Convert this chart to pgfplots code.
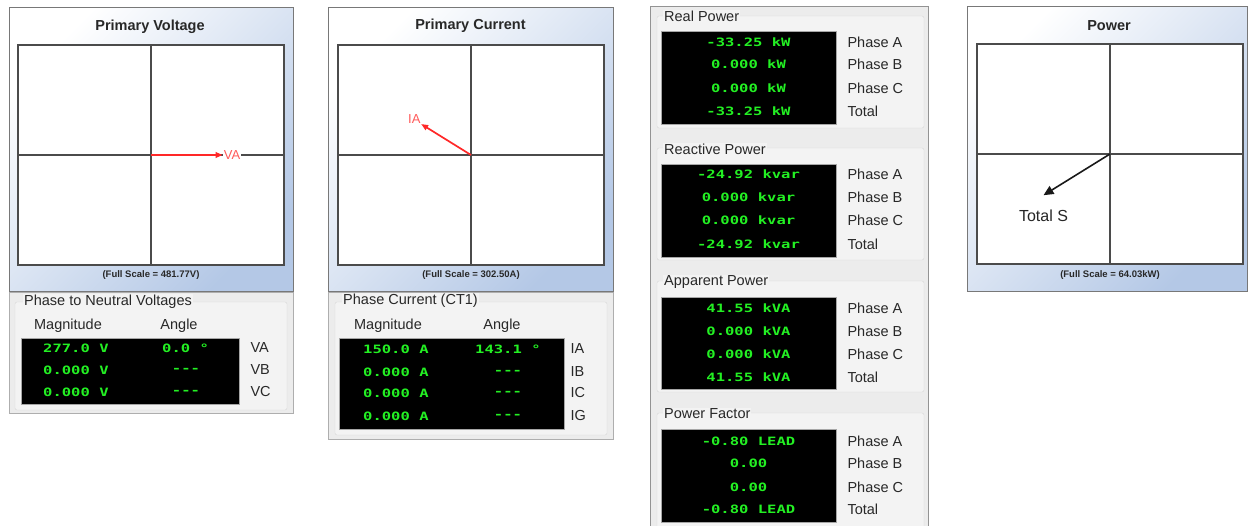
\documentclass[border=0pt]{standalone}
\usepackage{pgfplots}
\pgfplotsset{compat=1.18}
\usetikzlibrary{arrows.meta}
\usepackage{graphicx}
\usepackage{fontspec}
\setmainfont{Liberation Sans}
\newfontfamily\lcd{DejaVu Sans Mono}
\definecolor{panelblue}{RGB}{180,200,230}
\definecolor{frameg}{RGB}{120,120,120}
\definecolor{lcdgreen}{RGB}{35,240,35}
\definecolor{phred}{RGB}{255,40,40}
\definecolor{lblred}{RGB}{255,90,90}
\definecolor{txt}{RGB}{40,40,40}
\definecolor{grp}{RGB}{243,243,243}
\definecolor{grpline}{RGB}{215,215,215}
\definecolor{panelg}{RGB}{236,236,236}
\definecolor{gridg}{RGB}{75,75,75}
\newcommand\val[1]{\scalebox{1.35}[1]{\lcd\bfseries\fontsize{11.5}{12}\selectfont #1}}
\newcommand\lblf{\fontsize{14.5}{16}\selectfont}
\newcommand\ttlf{\fontsize{14.5}{16}\selectfont\bfseries}
\newcommand\fscf{\fontsize{9.5}{10}\selectfont\bfseries}
\tikzset{lbl/.style={font=\lblf, text=txt}, ttl/.style={font=\ttlf, text=txt}, fsc/.style={font=\fscf, text=txt}}
\pgfplotsset{phasor/.style={scale only axis, width=266pt, height=220pt, anchor=south west,
  xtick={0}, ytick={0}, xticklabels={}, yticklabels={}, major tick length=0pt,
  grid=major, major grid style={draw=gridg, line width=1.3pt},
  axis line style={draw=gridg, line width=1.4pt},
  axis background/.style={fill=white}, clip=false}}
\begin{document}
\begin{tikzpicture}[x=1pt,y=1pt]
\useasboundingbox (0,0) rectangle (1249,525);
\fill[white] (0,0) rectangle (1249,525);
\coordinate (P1) at (18,260);
\coordinate (P2) at (338,260);
\coordinate (P3) at (977,261);
% ---------- panel frames ----------
\shade[top color=white, bottom color=panelblue, shading angle=45] (9,525-8) rectangle (293,525-292);
\draw[frameg, line width=1pt] (9,525-8) rectangle (293,525-292);
\shade[top color=white, bottom color=panelblue, shading angle=45] (328,525-8) rectangle (613,525-292);
\draw[frameg, line width=1pt] (328,525-8) rectangle (613,525-292);
\shade[top color=white, bottom color=panelblue, shading angle=45] (967,525-7) rectangle (1247,525-292);
\draw[frameg, line width=1pt] (967,525-7) rectangle (1247,525-292);
\node[ttl] at (150,525-27) {Primary Voltage};
\node[ttl] at (470.5,525-26) {Primary Current};
\node[ttl] at (1109,525-26) {Power};
\node[fsc] at (151,525-275) {(Full Scale = 481.77V)};
\node[fsc] at (471,525-275) {(Full Scale = 302.50A)};
\node[fsc] at (1110,525-275) {(Full Scale = 64.03kW)};
% ---------- voltage sub panel ----------
\draw[fill=panelg, draw=frameg!60] (9,525-292) rectangle (293,525-413);
\draw[grpline, fill=grp, rounded corners=2pt] (15,525-302) rectangle (287,525-410);
\node[lbl, anchor=west, fill=grp, inner sep=1pt] at (23,525-302) {Phase to Neutral Voltages};
\node[lbl] at (68,525-326) {Magnitude};
\node[lbl] at (179,525-326) {Angle};
\filldraw[fill=black, draw=gray!70] (21,525-338) rectangle (239,525-404);
\begin{scope}[every node/.style={text=lcdgreen, inner sep=0pt}]
\node[anchor=west] at (43,525-348) {\val{277.0 V}};
\node[anchor=west] at (43,525-370) {\val{0.000 V}};
\node[anchor=west] at (43,525-392) {\val{0.000 V}};
\node[anchor=west] at (162,525-348) {\val{0.0 °}};
\node at (186,525-370) {\val{-{}-{}-}};
\node at (186,525-392) {\val{-{}-{}-}};
\end{scope}
\node[lbl, anchor=west] at (247,525-348) {VA};
\node[lbl, anchor=west] at (247,525-370) {VB};
\node[lbl, anchor=west] at (247,525-392) {VC};
% ---------- current sub panel ----------
\draw[fill=panelg, draw=frameg!60] (328,525-292) rectangle (613,525-439);
\draw[grpline, fill=grp, rounded corners=2pt] (335,525-302) rectangle (607,525-435);
\node[lbl, anchor=west, fill=grp, inner sep=1pt] at (342,525-301) {Phase Current (CT1)};
\node[lbl] at (388,525-326) {Magnitude};
\node[lbl] at (502,525-326) {Angle};
\filldraw[fill=black, draw=gray!70] (339,525-338) rectangle (564,525-429);
\begin{scope}[every node/.style={text=lcdgreen, inner sep=0pt}]
\node[anchor=west] at (363,525-349) {\val{150.0 A}};
\node[anchor=west] at (363,525-372) {\val{0.000 A}};
\node[anchor=west] at (363,525-393) {\val{0.000 A}};
\node[anchor=west] at (363,525-416) {\val{0.000 A}};
\node[anchor=west] at (475,525-349) {\val{143.1 °}};
\node at (508,525-372) {\val{-{}-{}-}};
\node at (508,525-393) {\val{-{}-{}-}};
\node at (508,525-416) {\val{-{}-{}-}};
\end{scope}
\node[lbl, anchor=west] at (567,525-349) {IA};
\node[lbl, anchor=west] at (567,525-372) {IB};
\node[lbl, anchor=west] at (567,525-393) {IC};
\node[lbl, anchor=west] at (567,525-416) {IG};
% ---------- middle panel ----------
\draw[fill=panelg, draw=frameg!80] (650,525-6) rectangle (928,-10);
\draw[grpline, fill=grp, rounded corners=2pt] (657,525-16) rectangle (924,525-128);
\draw[grpline, fill=grp, rounded corners=2pt] (657,525-148) rectangle (924,525-260);
\draw[grpline, fill=grp, rounded corners=2pt] (657,525-281) rectangle (924,525-392);
\draw[grpline, fill=grp, rounded corners=2pt] (657,525-413) rectangle (924,-20);
\node[lbl, anchor=west, fill=grp, inner sep=1pt] at (663,525-16) {Real Power};
\node[lbl, anchor=west, fill=grp, inner sep=1pt] at (663,525-149) {Reactive Power};
\node[lbl, anchor=west, fill=grp, inner sep=1pt] at (663,525-282) {Apparent Power};
\node[lbl, anchor=west, fill=grp, inner sep=1pt] at (663,525-414) {Power Factor};
\filldraw[fill=black, draw=gray!70] (661,525-31) rectangle (836,525-124);
\filldraw[fill=black, draw=gray!70] (661,525-164) rectangle (836,525-257);
\filldraw[fill=black, draw=gray!70] (661,525-297) rectangle (836,525-389);
\filldraw[fill=black, draw=gray!70] (661,525-429) rectangle (836,525-522);
\begin{scope}[every node/.style={text=lcdgreen, inner sep=0pt}]
\node at (748.5,525-42) {\val{-33.25 kW}};
\node at (748.5,525-64) {\val{0.000 kW}};
\node at (748.5,525-88) {\val{0.000 kW}};
\node at (748.5,525-111) {\val{-33.25 kW}};
\node at (748.5,525-174) {\val{-24.92 kvar}};
\node at (748.5,525-197) {\val{0.000 kvar}};
\node at (748.5,525-220) {\val{0.000 kvar}};
\node at (748.5,525-244) {\val{-24.92 kvar}};
\node at (748.5,525-308) {\val{41.55 kVA}};
\node at (748.5,525-331) {\val{0.000 kVA}};
\node at (748.5,525-354) {\val{0.000 kVA}};
\node at (748.5,525-377) {\val{41.55 kVA}};
\node at (748.5,525-441) {\val{-0.80 LEAD}};
\node at (748.5,525-463) {\val{0.00}};
\node at (748.5,525-487) {\val{0.00}};
\node at (748.5,525-509) {\val{-0.80 LEAD}};
\end{scope}
\foreach \a/\b/\c/\d in {42/64/88/111, 174/197/220/244, 308/331/354/377, 441/463/487/509}{
  \node[lbl, anchor=west] at (844,525-\a) {Phase A};
  \node[lbl, anchor=west] at (844,525-\b) {Phase B};
  \node[lbl, anchor=west] at (844,525-\c) {Phase C};
  \node[lbl, anchor=west] at (844,525-\d) {Total};
}
% ---------- phasor axes ----------
\begin{axis}[phasor, at={(P1)}, xmin=-514, xmax=514, ymin=-514, ymax=514]
\addplot[phred, line width=1.7pt, -{Triangle[length=7pt,width=5.5pt]}] coordinates {(0,0) (277.0,0)};
\node[anchor=west, text=lblred, fill=white, inner sep=1pt, font=\fontsize{13}{14}\selectfont] at (axis cs:277.0,0) {VA};
\end{axis}
\begin{axis}[phasor, at={(P2)}, xmin=-320, xmax=320, ymin=-320, ymax=320]
\addplot[phred, line width=1.7pt, -{Triangle[length=7pt,width=5.5pt]}] coordinates {(0,0) (-119.95,90.06)};
\node[anchor=south east, text=lblred, inner sep=0.5pt, font=\fontsize{13}{14}\selectfont] at (axis cs:-119.95,90.06) {IA};
\end{axis}
\begin{axis}[phasor, at={(P3)}, xmin=-66.5, xmax=66.5, ymin=-66.5, ymax=66.5]
\addplot[black!90, line width=1.6pt, -{Triangle[length=10pt,width=9pt]}] coordinates {(0,0) (-33.25,-24.92)};
\node[anchor=north, text=black!85, yshift=-11pt, font=\fontsize{16}{17}\selectfont] at (axis cs:-33.25,-24.92) {Total S};
\end{axis}
\end{tikzpicture}
\end{document}
